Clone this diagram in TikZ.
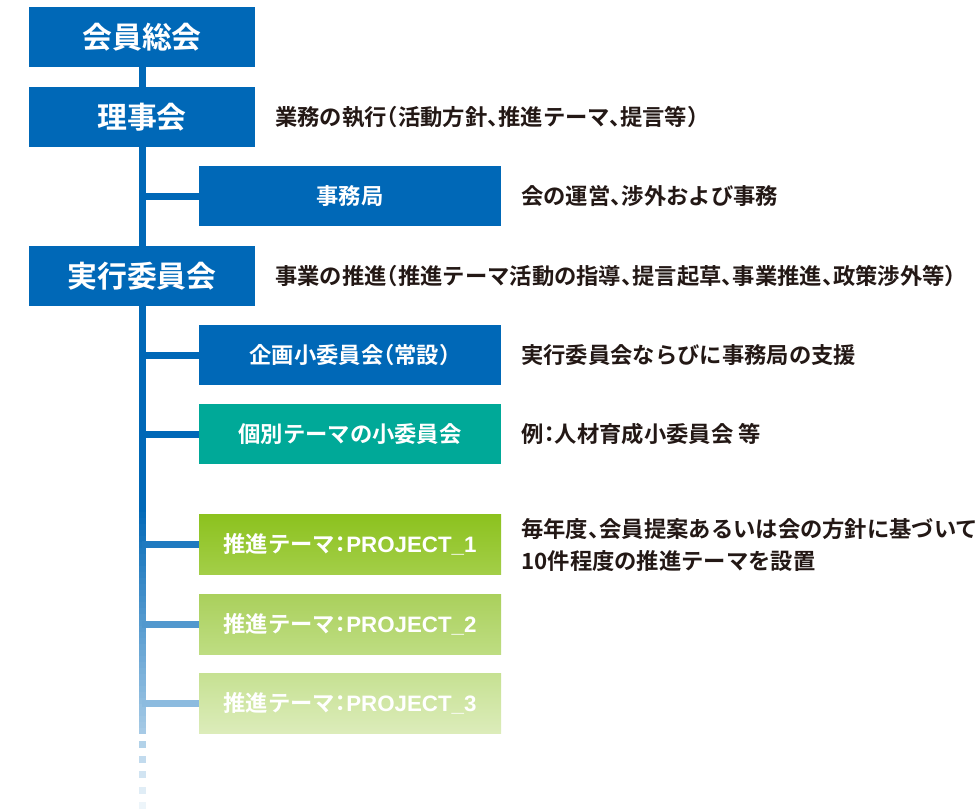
\documentclass[tikz,border=0pt]{standalone}
\usepackage{fontspec}
\setmainfont{Noto Sans CJK JP}[BoldFont={Noto Sans CJK JP Bold},RawFeature=+halt]
\newfontfamily\latinfont{Liberation Sans}
\usetikzlibrary{calc}
\definecolor{orgblue}{RGB}{0,104,183}
\definecolor{orgteal}{RGB}{0,169,152}
\definecolor{desctext}{RGB}{35,24,21}
\tikzset{
  mainbox/.style={rectangle,fill=orgblue,text=white,minimum width=45.2mm,minimum height=12mm,inner sep=0pt,font=\fontsize{17}{20}\selectfont\bfseries},
  subbox/.style={rectangle,fill=orgblue,text=white,minimum width=60.4mm,minimum height=12mm,inner sep=0pt,font=\fontsize{12.7}{14}\selectfont\bfseries},
  desc/.style={anchor=west,inner sep=0pt,text=desctext,align=left,font=\fontsize{12.7}{18.2}\selectfont\bfseries},
  trunk/.style={line width=1.4mm},
}
\begin{document}
\begin{tikzpicture}[x=0.2mm,y=-0.2mm]
        \useasboundingbox (0,0) rectangle (980,809);
        %% Main bodies
        \node[mainbox] (soukai) at (142,37) {会員総会};
        \node[mainbox] (riji) at (142,117) {理事会};
        \node[mainbox] (jikkou) at (142,276) {実行委員会};
        %% Sub bodies
        \node[subbox] (jimu) at (350,196) {事務局};
        \node[subbox] (kikaku) at (350,355) {企画小委員会（常設）};
        \node[subbox,fill=orgteal] (kobetsu) at (350,434) {個別テーマの小委員会};
        \node[subbox,top color={rgb,255:red,140;green,194;blue,30},bottom color={rgb,255:red,163;green,206;blue,72}] (proj1) at (350,544) {推進テーマ：{\latinfont PROJECT\_1}};
        \node[subbox,top color={rgb,255:red,170;green,208;blue,92},bottom color={rgb,255:red,190;green,221;blue,130}] (proj2) at (350,624) {推進テーマ：{\latinfont PROJECT\_2}};
        \node[subbox,top color={rgb,255:red,198;green,225;blue,146},bottom color={rgb,255:red,220;green,236;blue,186}] (proj3) at (350,703) {推進テーマ：{\latinfont PROJECT\_3}};
        %% Trunk
        \draw[trunk,orgblue] (soukai.south) -- (riji.north);
        \draw[trunk,orgblue] (riji.south) -- (jikkou.north);
        \draw[trunk,orgblue] (jikkou.south) -- ++(0,200) coordinate (fade);
        \coordinate (trunkend) at (proj3.south -| fade);
        %% fading part, in short steps
        \foreach \i in {0,...,37} {
            \pgfmathsetmacro{\c}{100-65*\i/37}
            \draw[trunk,orgblue!\c!white] ($(fade)+(0,6*\i-0.5)$) -- ++(0,6.5);
        }
        \foreach \y/\c in {8/30,23/24,38/18,54/12,69/7}
            \fill[orgblue!\c!white] ($(trunkend)+(-3.5,\y)$) rectangle ++(7,7);
        %% Branches
        \draw[trunk,orgblue] (jimu.west) -- (jimu.west -| riji.south);
        \draw[trunk,orgblue] (kikaku.west) -- (kikaku.west -| riji.south);
        \draw[trunk,orgblue] (kobetsu.west) -- (kobetsu.west -| riji.south);
        \draw[trunk,orgblue!88!white] (proj1.west) -- (proj1.west -| riji.south);
        \draw[trunk,orgblue!68!white] (proj2.west) -- (proj2.west -| riji.south);
        \draw[trunk,orgblue!45!white] (proj3.west) -- (proj3.west -| riji.south);
        %% Descriptions
        \node[desc] (rijidesc) at (275,117) {業務の執行（活動方針、推進テーマ、提言等）};
        \node[desc] (jimudesc) at (521,196) {会の運営、渉外および事務};
        \node[desc] (jikkoudesc) at (275,276) {事業の推進（推進テーマ活動の指導、提言起草、事業推進、政策渉外等）};
        \node[desc] (kikakudesc) at (521,355) {実行委員会ならびに事務局の支援};
        \node[desc] (kobetsudesc) at (521,434) {例：人材育成小委員会 等};
        \node[desc] (projdesc) at (521,545) {毎年度、会員提案あるいは会の方針に基づいて\\10件程度の推進テーマを設置};
    \end{tikzpicture}
\end{document}
